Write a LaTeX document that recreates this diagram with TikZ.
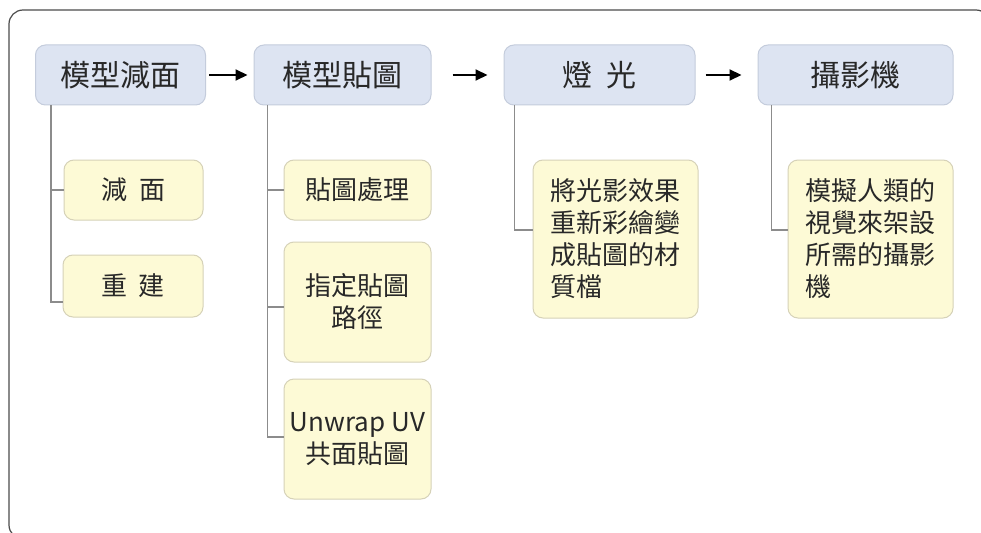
\documentclass[tikz,border=0pt]{standalone}
\usepackage{fontspec}
\setmainfont{Noto Sans CJK TC}
\usetikzlibrary{arrows.meta,calc}
\definecolor{bluefill}{RGB}{221,228,242}
\definecolor{blueline}{RGB}{196,204,220}
\definecolor{yelfill}{RGB}{253,250,214}
\definecolor{yelline}{RGB}{214,210,184}
\definecolor{conn}{RGB}{140,140,140}
\definecolor{txt}{RGB}{40,40,40}
\tikzset{
  parentbox/.style={draw=blueline, line width=1pt, fill=bluefill, rounded corners=10pt,
    inner sep=0pt, minimum height=60pt, text=txt, font=\fontsize{30}{34}\selectfont},
  childbox/.style={draw=yelline, line width=1pt, fill=yelfill, rounded corners=10pt,
    inner sep=0pt, text=txt, font=\fontsize{26}{32}\selectfont},
  flow/.style={-{Triangle[length=12pt,width=11pt]}, line width=2pt, black},
  branch/.style={draw=conn, line width=1.5pt},
  frame/.style={draw=black!70, line width=1.2pt, rounded corners=14pt}
}
\begin{document}
\begin{tikzpicture}[x=1pt,y=-1pt]
\useasboundingbox (0,0) rectangle (981,532);
\clip (0,0) rectangle (981,532);
\fill[white] (0,0) rectangle (981,532);
\draw[frame] (9,10) rectangle (990,539);

% parents
\node[parentbox, minimum width=170pt] (p1) at (120.5,75) {模型減面};
\node[parentbox, minimum width=177pt] (p2) at (342.5,75) {模型貼圖};
\node[parentbox, minimum width=191pt] (p3) at (599.5,75) {燈\ \ 光};
\node[parentbox, minimum width=195pt] (p4) at (855.5,75) {攝影機};

% children
\node[childbox, minimum width=139pt, minimum height=60pt] (c11) at (133.5,190) {減\ \ 面};
\node[childbox, minimum width=140pt, minimum height=62pt] (c12) at (133,286) {重\ \ 建};
\node[childbox, minimum width=147pt, minimum height=60pt] (c21) at (357.5,190) {貼圖處理};
\node[childbox, minimum width=147pt, minimum height=120pt, align=center] (c22) at (357.5,302) {指定貼圖\\路徑};
\node[childbox, minimum width=147pt, minimum height=120pt, align=center] (c23) at (357.5,439) {Unwrap UV\\共面貼圖};
\node[childbox, minimum width=165pt, minimum height=158pt, align=left] (c31) at (615.5,239) {將光影效果\\重新彩繪變\\成貼圖的材\\質檔};
\node[childbox, minimum width=165pt, minimum height=158pt, align=left] (c41) at (870.5,239) {模擬人類的\\視覺來架設\\所需的攝影\\機};

% flow arrows
\draw[flow, shorten <=3pt, shorten >=6pt] (p1.east) -- (p2.west);
\draw[flow, shorten <=21pt, shorten >=16pt] (p2.east) -- (p3.west);
\draw[flow, shorten <=10pt, shorten >=16pt] (p3.east) -- (p4.west);

% branches
\draw[branch] ($(p1.south west)+(16,0)$) |- (c11.west);
\draw[branch] ($(p1.south west)+(16,0)$) |- ($(c12.west)+(0,16)$);
\draw[branch] ($(p2.south west)+(14,0)$) |- (c21.west);
\draw[branch] ($(p2.south west)+(14,0)$) |- ($(c22.west)+(0,5)$);
\draw[branch] ($(p2.south west)+(14,0)$) |- ($(c23.west)+(0,-2)$);
\draw[branch] ($(p3.south west)+(11,0)$) |- ($(c31.west)+(0,-9)$);
\draw[branch] ($(p4.south west)+(14,0)$) |- ($(c41.west)+(0,-9)$);
\end{tikzpicture}
\end{document}
